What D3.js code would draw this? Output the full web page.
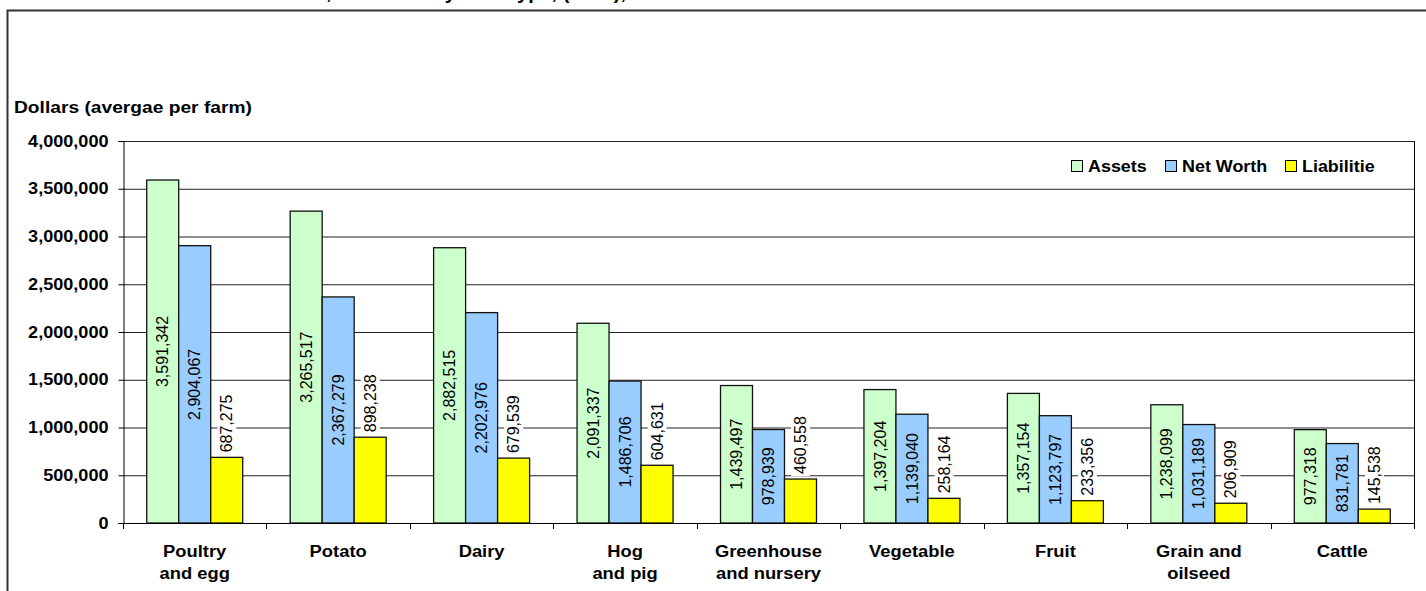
<!DOCTYPE html>
<html>
<head>
<meta charset="utf-8">
<script src="https://cdn.jsdelivr.net/npm/d3@7"></script>
<style>
  html, body { margin: 0; padding: 0; background: #fff; }
  svg { display: block; font-family: "Liberation Sans", Arial, sans-serif; }
</style>
</head>
<body>
<svg id="chart" width="1426" height="591"></svg>
<script>
// Farm types along the category axis (two-line labels)
const categories = [
  ["Poultry", "and egg"],
  ["Potato"],
  ["Dairy"],
  ["Hog", "and pig"],
  ["Greenhouse", "and nursery"],
  ["Vegetable"],
  ["Fruit"],
  ["Grain and", "oilseed"],
  ["Cattle"]
];
const seriesNames = ["Assets", "Net Worth", "Liabilitie"];
const assets      = [3591342, 3265517, 2882515, 2091337, 1439497, 1397204, 1357154, 1238099, 977318];
const netWorth    = [2904067, 2367279, 2202976, 1486706, 978939, 1139040, 1123797, 1031189, 831781];
const liabilities = [687275, 898238, 679539, 604631, 460558, 258164, 233356, 206909, 145538];
const yTicks = [0, 500000, 1000000, 1500000, 2000000, 2500000, 3000000, 3500000, 4000000];
const colors = ["#CCFFCC", "#99CCFF", "#FFFF00"];

const svg = d3.select("#chart");
const fmt = d3.format(",");
const catKeys = categories.map(c => c.join(" "));
const series = [assets, netWorth, liabilities];

// Widen bold text horizontally about its anchor point
function widen(sel, k) {
  sel.each(function() {
    const t = d3.select(this);
    const ax = +t.attr("x") || 0;
    t.attr("transform", `translate(${ax},0) scale(${k},1) translate(${-ax},0)`);
  });
}

// Outer chart frame
svg.append("rect")
  .attr("x", 7.5).attr("y", 10.5)
  .attr("width", 1440).attr("height", 620)
  .attr("fill", "#fff").attr("stroke", "#333").attr("stroke-width", 2);

// Chart title (sits above the frame)
svg.append("text")
  .attr("x", 77).attr("y", -1)
  .attr("font-size", 20).attr("font-weight", "bold")
  .text("Farm assets and liabilities, net worth by farm type, (2006),");

// Axis title
svg.append("text")
  .attr("x", 14).attr("y", 113)
  .attr("font-size", 17).attr("font-weight", "bold")
  .text("Dollars (avergae per farm)")
  .call(widen, 1.13);

const plot = { left: 123, right: 1414, top: 141, bottom: 523 };

const x0 = d3.scaleBand().domain(catKeys).range([plot.left, plot.right]).paddingInner(0).paddingOuter(0);
const groupW = 96;
const x1 = d3.scaleBand().domain(seriesNames).range([0, groupW]).padding(0);
const y = d3.scaleLinear().domain([0, 4000000]).range([plot.bottom, plot.top]);

// Gridlines
const grid = svg.append("g").attr("transform", `translate(${plot.left},0)`)
  .call(d3.axisLeft(y).tickValues(yTicks).tickSize(-(plot.right - plot.left)).tickFormat(""));
grid.select(".domain").remove();
grid.selectAll(".tick line").attr("stroke", "#222").attr("stroke-width", 1);

// Right edge of plot area
svg.append("line")
  .attr("x1", plot.right + 0.5).attr("x2", plot.right + 0.5)
  .attr("y1", plot.top).attr("y2", plot.bottom + 5)
  .attr("stroke", "#000");

// Y axis
const yAxis = svg.append("g").attr("transform", `translate(${plot.left + 0.5},0)`)
  .call(d3.axisLeft(y).tickValues(yTicks).tickSize(5).tickPadding(10).tickFormat(fmt));
yAxis.select(".domain").attr("stroke", "#000");
yAxis.selectAll(".tick line").attr("stroke", "#000");
yAxis.selectAll(".tick text")
  .attr("font-family", "Liberation Sans, Arial, sans-serif")
  .attr("font-size", 16).attr("font-weight", "bold").attr("fill", "#000")
  .call(widen, 1.13);

// Bars
const groups = svg.append("g").selectAll("g")
  .data(catKeys).join("g")
  .attr("transform", d => `translate(${x0(d) + (x0.bandwidth() - groupW) / 2},0)`);

groups.each(function(cat, i) {
  const g = d3.select(this);
  seriesNames.forEach((s, si) => {
    const v = series[si][i];
    g.append("rect")
      .attr("x", x1(s)).attr("y", y(v))
      .attr("width", x1.bandwidth()).attr("height", y(0) - y(v))
      .attr("fill", colors[si]).attr("stroke", "#111").attr("stroke-width", 1.3);
  });
});

// Data labels: Assets and Net Worth centred inside bars, Liabilities above bars
groups.each(function(cat, i) {
  const g = d3.select(this);
  seriesNames.forEach((s, si) => {
    const v = series[si][i];
    const cx = x1(s) + x1.bandwidth() / 2;
    if (si < 2) {
      const cy = (y(v) + y(0)) / 2;
      g.append("text")
        .attr("transform", `translate(${cx},${cy}) rotate(-90)`)
        .attr("text-anchor", "middle").attr("dy", "0.35em")
        .attr("font-size", 16).attr("fill", "#000")
        .text(fmt(v));
    } else {
      const lg = g.append("g").attr("transform", `translate(${cx},${y(v) - 5}) rotate(-90)`);
      const bg = lg.append("rect").attr("fill", "#fff");
      const t = lg.append("text")
        .attr("text-anchor", "start").attr("dy", "0.35em")
        .attr("font-size", 16).attr("fill", "#000")
        .text(fmt(v));
      const bb = t.node().getBBox();
      bg.attr("x", bb.x - 2).attr("y", bb.y - 1).attr("width", bb.width + 4).attr("height", bb.height + 2);
    }
  });
});

// X axis line and category ticks
svg.append("line")
  .attr("x1", plot.left).attr("x2", plot.right + 1)
  .attr("y1", plot.bottom + 0.5).attr("y2", plot.bottom + 0.5)
  .attr("stroke", "#000");
const bounds = catKeys.map(c => x0(c)).concat([x0(catKeys[catKeys.length - 1]) + x0.bandwidth()]);
svg.append("g").selectAll("line").data(bounds).join("line")
  .attr("x1", d => Math.round(d) + 0.5).attr("x2", d => Math.round(d) + 0.5)
  .attr("y1", plot.bottom).attr("y2", plot.bottom + 6)
  .attr("stroke", "#000");

// Category labels
svg.append("g").selectAll("text").data(categories).join("text")
  .attr("x", (d, i) => x0(catKeys[i]) + x0.bandwidth() / 2)
  .attr("y", 557)
  .attr("text-anchor", "middle")
  .attr("font-size", 17).attr("font-weight", "bold")
  .each(function(d) {
    const t = d3.select(this);
    d.forEach((line, li) => {
      t.append("tspan")
        .attr("x", t.attr("x"))
        .attr("dy", li === 0 ? 0 : 22)
        .text(line);
    });
  })
  .call(widen, 1.08);

// Legend
const legend = svg.append("g");
legend.append("rect")
  .attr("x", 1063).attr("y", 150).attr("width", 326).attr("height", 33)
  .attr("fill", "#fff");
const legendX = [1071, 1165, 1285];
seriesNames.forEach((s, si) => {
  legend.append("rect")
    .attr("x", legendX[si] + 0.5).attr("y", 160.5)
    .attr("width", 11).attr("height", 11)
    .attr("fill", colors[si]).attr("stroke", "#000");
  legend.append("text")
    .attr("x", legendX[si] + 17).attr("y", 172)
    .attr("font-size", 16).attr("font-weight", "bold")
    .text(s)
    .call(widen, 1.12);
});
</script>
</body>
</html>
